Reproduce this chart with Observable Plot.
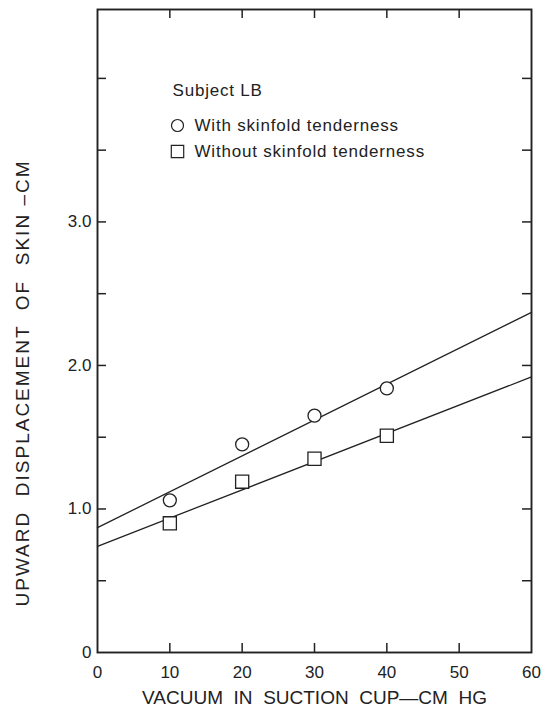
<!DOCTYPE html>
<html><head><meta charset="utf-8">
<script src="https://cdn.jsdelivr.net/npm/d3@7"></script>
<script src="https://cdn.jsdelivr.net/npm/@observablehq/plot@0.6"></script>
<style>
body{margin:0;background:#fff;}
#chart svg{font-family:"Liberation Sans",Arial,sans-serif;color:#222;}
#chart g[aria-label="x-axis tick label"] text{font-size:17px;}
#chart g[aria-label="y-axis tick label"] text{font-size:17px;}
</style></head><body><div id="chart"></div>
<script>
// Data
const vacuum = [10, 20, 30, 40];
const withTenderness = [1.06, 1.45, 1.65, 1.84];
const withoutTenderness = [0.90, 1.19, 1.35, 1.51];
const fitX = [0, 60];
const withFit = [0.87, 2.37];
const withoutFit = [0.74, 1.92];
const xTickLabels = [0, 10, 20, 30, 40, 50, 60];
const xInnerTicks = [10, 20, 30, 40, 50];
const yTickLabels = [0, 1, 2, 3];
const yInnerTicks = [0.5, 1, 1.5, 2, 2.5, 3, 3.5, 4];
const xTitle = "VACUUM  IN  SUCTION  CUP\u2014CM  HG";
const yTitle = "UPWARD  DISPLACEMENT  OF  SKIN \u2013CM";
const legendTitle = "Subject LB";
const seriesNames = ["With skinfold tenderness", "Without skinfold tenderness"];

const W = 546, H = 712;
const mL = 97, mR = 15, mT = 9, mB = 60;
const xDomain = [0, 60], yDomain = [0, 4.48];
const tickPx = 9;
const dxPerPx = (xDomain[1] - xDomain[0]) / (W - mL - mR);
const dyPerPx = (yDomain[1] - yDomain[0]) / (H - mT - mB);
const tx = tickPx * dxPerPx, ty = tickPx * dyPerPx;

const pts = (ys) => vacuum.map((v, i) => ({x: v, y: ys[i]}));
const fit = (ys) => fitX.map((v, i) => ({x: v, y: ys[i]}));
const ink = "#222";
const legendFont = 17;

const chart = Plot.plot({
  width: W, height: H,
  marginLeft: mL, marginRight: mR, marginTop: mT, marginBottom: mB,
  x: {domain: xDomain},
  y: {domain: yDomain},
  marks: [
    Plot.frame({stroke: ink, strokeWidth: 1.9}),
    // inward ticks
    Plot.ruleX(xInnerTicks, {x: d => d, y1: yDomain[0], y2: yDomain[0] + ty, stroke: ink, strokeWidth: 1.5}),
    Plot.ruleX(xInnerTicks, {x: d => d, y1: yDomain[1] - ty, y2: yDomain[1], stroke: ink, strokeWidth: 1.5}),
    Plot.ruleY(yInnerTicks, {y: d => d, x1: xDomain[0], x2: xDomain[0] + tx, stroke: ink, strokeWidth: 1.5}),
    Plot.ruleY(yInnerTicks, {y: d => d, x1: xDomain[1] - tx, x2: xDomain[1], stroke: ink, strokeWidth: 1.5}),
    Plot.axisX({ticks: xTickLabels, tickSize: 0, tickPadding: 13, label: null, tickFormat: d => String(d), fill: ink}),
    Plot.axisY({ticks: yTickLabels, tickSize: 0, tickPadding: 6, label: null, tickFormat: d => d === 0 ? "0" : d.toFixed(1), fill: ink}),
    // fitted lines
    Plot.line(fit(withFit), {x: "x", y: "y", stroke: ink, strokeWidth: 1.3}),
    Plot.line(fit(withoutFit), {x: "x", y: "y", stroke: ink, strokeWidth: 1.3}),
    // observations
    Plot.dot(pts(withTenderness), {x: "x", y: "y", symbol: "circle", r: 6.5, stroke: ink, strokeWidth: 1.3, fill: "white"}),
    Plot.dot(pts(withoutTenderness), {x: "x", y: "y", symbol: "square", r: 7.4, stroke: ink, strokeWidth: 1.3, fill: "white"}),
    // legend
    Plot.text([legendTitle], {frameAnchor: "top-left", dx: 75, dy: 81, text: d => d, textAnchor: "start", lineAnchor: "middle", fontSize: legendFont, fill: ink}),
    Plot.dot([seriesNames[0]], {frameAnchor: "top-left", dx: 80, dy: 116, symbol: "circle", r: 6, stroke: ink, strokeWidth: 1.2, fill: "white"}),
    Plot.text([seriesNames[0]], {frameAnchor: "top-left", dx: 97, dy: 116, text: d => d, textAnchor: "start", lineAnchor: "middle", fontSize: legendFont, fill: ink}),
    Plot.dot([seriesNames[1]], {frameAnchor: "top-left", dx: 80, dy: 142, symbol: "square", r: 7, stroke: ink, strokeWidth: 1.2, fill: "white"}),
    Plot.text([seriesNames[1]], {frameAnchor: "top-left", dx: 97, dy: 142, text: d => d, textAnchor: "start", lineAnchor: "middle", fontSize: legendFont, fill: ink}),
    // axis titles
    Plot.text([xTitle], {frameAnchor: "bottom", dy: 45, text: d => d, textAnchor: "middle", lineAnchor: "middle", fontSize: 19, fill: ink}),
    Plot.text([yTitle], {frameAnchor: "left", dx: -75, dy: 52, rotate: -90, text: d => d, textAnchor: "middle", lineAnchor: "middle", fontSize: 19, fill: ink})
  ]
});
const sel = d3.select(chart);
sel.selectAll("text").filter(function() { return this.textContent === yTitle; }).style("letter-spacing", "2px");
sel.selectAll("text").filter(function() { return this.textContent === legendTitle || seriesNames.includes(this.textContent); }).style("letter-spacing", "0.8px");
document.getElementById("chart").appendChild(chart);
</script></body></html>
